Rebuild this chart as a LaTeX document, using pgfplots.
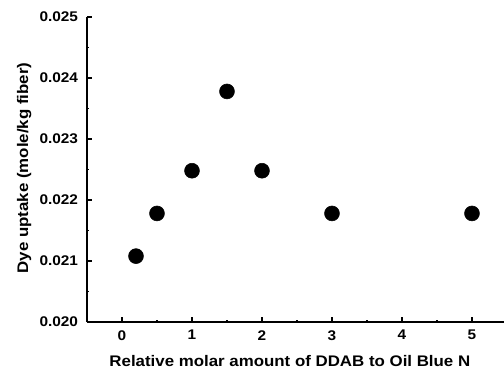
\documentclass[border=0pt]{standalone}
\usepackage{pgfplots}
\pgfplotsset{compat=1.18}
\usepackage{fontspec}
\setmainfont{Liberation Sans}[FakeStretch=1.1]
\newfontfamily\labelfont{Liberation Sans}[FakeStretch=1.1]
\begin{document}
\begin{tikzpicture}
\begin{axis}[
  at={(0,0)}, anchor=south west,
  scale only axis, width=315pt, height=228.75pt,
  xmin=-0.5, xmax=5.5, ymin=0.020, ymax=0.025,
  axis lines*=left,
  axis line style={line width=1.2pt, -},
  xtick={0,1,2,3,4,5}, minor x tick num=1,
  ytick={0.020,0.021,0.022,0.023,0.024,0.025}, minor y tick num=1,
  tick align=inside, major tick length=3.5pt, minor tick length=1.8pt,
  every tick/.style={line width=1pt, black},
  scaled y ticks=false,
  yticklabel style={/pgf/number format/fixed, /pgf/number format/precision=3, /pgf/number format/fixed zerofill, inner sep=0pt, xshift=-6.5pt},
  xticklabel style={inner sep=0pt, yshift=-6pt},
  /pgf/number format/assume math mode=true,
  tick label style={font=\fontsize{10.5}{11}\selectfont\bfseries},
  label style={font=\labelfont\fontsize{11.5}{13}\selectfont\bfseries},
  xlabel={Relative molar amount of DDAB to Oil Blue N},
  ylabel={Dye uptake (mole/kg fiber)},
  xlabel style={at={(axis description cs:0.483,-0.1475)}, anchor=base},
  ylabel style={at={(axis description cs:-0.14,0.505)}, anchor=base},
  clip=false,
]
\addplot[only marks, mark=*, mark size=5.6pt, black] coordinates {
  (0.2,0.02108) (0.5,0.02178) (1,0.02248) (1.5,0.02378) (2,0.02248) (3,0.02178) (5,0.02178)
};
\end{axis}
\pgfresetboundingbox
\path (-65.25pt,-40.5pt) rectangle (312.75pt,241.5pt);
\end{tikzpicture}
\end{document}
